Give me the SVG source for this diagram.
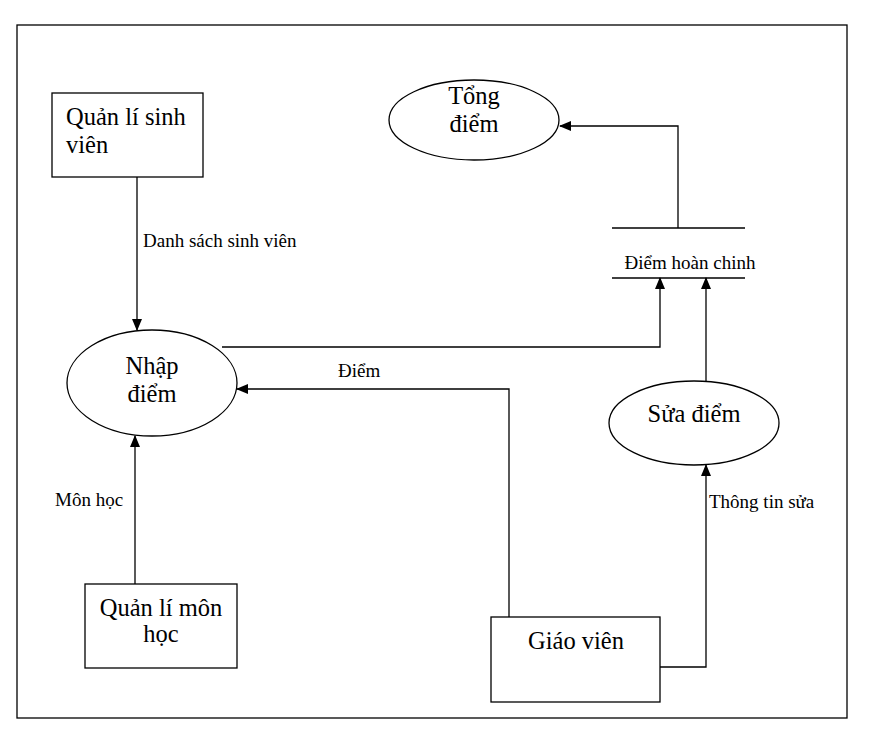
<svg xmlns="http://www.w3.org/2000/svg" width="873" height="737" viewBox="0 0 873 737">
<style>
.s{fill:none;stroke:#000;stroke-width:1.3}
.n{fill:#fff;stroke:#000;stroke-width:1.3}
.t{font-family:'Liberation Serif','Times New Roman','DejaVu Serif',serif;font-size:24.5px;fill:#000}
.l{font-family:'Liberation Serif','Times New Roman','DejaVu Serif',serif;font-size:19px;fill:#000}
.c{stroke:#000;stroke-width:1.3;fill:none;marker-end:url(#a)}
</style>
<defs>
<marker id="a" markerWidth="12" markerHeight="10" refX="11" refY="5" orient="auto" markerUnits="userSpaceOnUse">
<path d="M0,0 L12,5 L0,10 z" fill="#000"/>
</marker>
</defs>
<rect x="0" y="0" width="873" height="737" fill="#fff"/>
<rect x="17" y="25" width="830" height="693" class="s"/>
<g id="connectors">
<path class="c" d="M137,177 V330"/>
<path class="c" d="M678,228 V126 H560"/>
<path class="c" d="M222,347 H660 V278"/>
<path class="c" d="M509,617 V389 H237"/>
<path class="c" d="M706,381 V278"/>
<path class="c" d="M660,667 H706 V465"/>
<path class="c" d="M135,584 V436"/>
<text class="l" x="143" y="247">Danh sách sinh viên</text>
<text class="l" x="338" y="377">Điểm</text>
<text class="l" x="709" y="508">Thông tin sửa</text>
<text class="l" x="55" y="506">Môn học</text>
</g>
<g id="qlsv">
<rect x="52" y="93" width="151" height="84" class="n"/>
<text class="t" x="66" y="125">Quản lí sinh</text>
<text class="t" x="66" y="153">viên</text>
</g>
<g id="tongdiem">
<ellipse cx="474" cy="120" rx="85" ry="40" class="n"/>
<text class="t" x="474" y="104" text-anchor="middle">Tổng</text>
<text class="t" x="474" y="132" text-anchor="middle">điểm</text>
</g>
<g id="diemhoanchinh">
<line x1="612" y1="228" x2="745" y2="228" class="s"/>
<line x1="612" y1="278" x2="745" y2="278" class="s"/>
<text class="l" x="690" y="269" text-anchor="middle">Điểm hoàn chinh</text>
</g>
<g id="nhapdiem">
<ellipse cx="152" cy="383" rx="85" ry="53" class="n"/>
<text class="t" x="152" y="374" text-anchor="middle">Nhập</text>
<text class="t" x="152" y="402" text-anchor="middle">điểm</text>
</g>
<g id="suadiem">
<ellipse cx="694" cy="423" rx="85" ry="42" class="n"/>
<text class="t" x="694" y="422" text-anchor="middle">Sửa điểm</text>
</g>
<g id="giaovien">
<rect x="491" y="617" width="169" height="85" class="n"/>
<text class="t" x="576" y="649" text-anchor="middle">Giáo viên</text>
</g>
<g id="qlmh">
<rect x="85" y="584" width="152" height="84" class="n"/>
<text class="t" x="161" y="616" text-anchor="middle">Quản lí môn</text>
<text class="t" x="161" y="642" text-anchor="middle">học</text>
</g>
</svg>
